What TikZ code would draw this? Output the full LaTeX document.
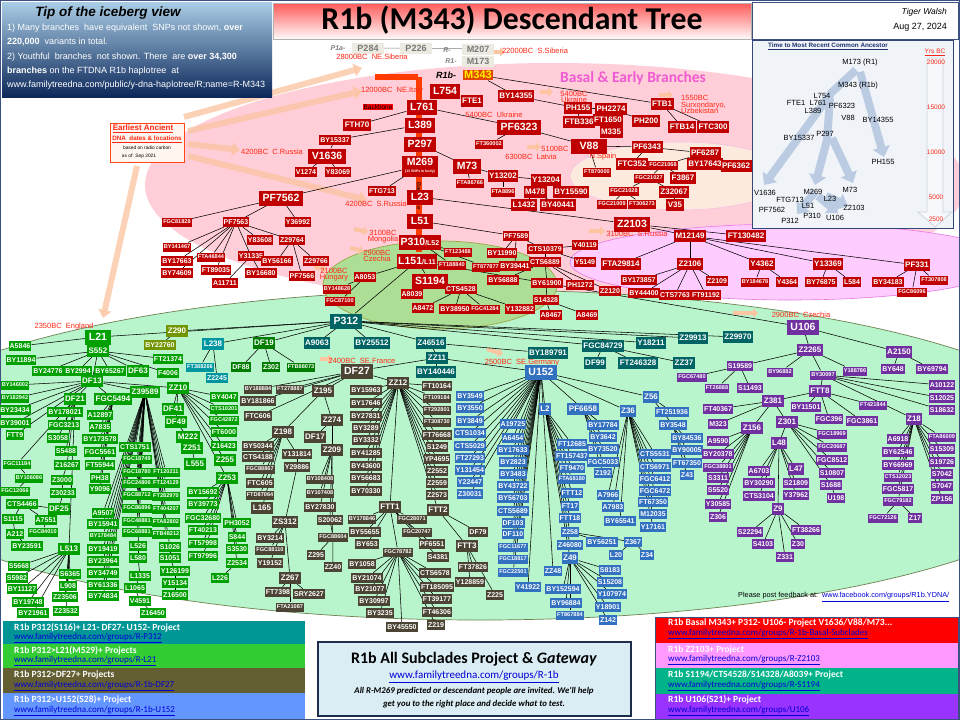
\documentclass[tikz,border=0pt]{standalone}
\usepackage{fontspec}
\usepackage{graphicx}
\setmainfont{Liberation Sans}
\newfontfamily\calfont{Carlito}
\usetikzlibrary{arrows.meta}
\pgfdeclarelayer{bg}
\pgfdeclarelayer{edg}
\pgfsetlayers{bg,edg,main}
\definecolor{cR}{RGB}{192,0,0}
\definecolor{cG}{RGB}{0,160,0}
\definecolor{cD}{RGB}{0,125,0}
\definecolor{cO}{RGB}{115,150,0}
\definecolor{cL}{RGB}{0,150,160}
\definecolor{cT}{RGB}{0,100,100}
\definecolor{cB}{RGB}{75,68,52}
\definecolor{cU}{RGB}{50,112,192}
\definecolor{cP}{RGB}{112,48,160}
\definecolor{cDate}{RGB}{255,40,20}
\definecolor{pinkbg}{RGB}{255,206,216}
\definecolor{greenbg}{RGB}{184,244,204}
\definecolor{magbg}{RGB}{255,204,255}
\definecolor{peach}{RGB}{252,234,222}
\definecolor{olivebg}{RGB}{172,222,150}
\definecolor{cArrow}{RGB}{252,196,160}
\definecolor{cInset}{RGB}{186,203,226}
\definecolor{cLink}{RGB}{0,0,215}
\definecolor{cGray}{RGB}{236,234,225}
\definecolor{frameC}{RGB}{60,80,130}
\definecolor{greenEdge}{RGB}{110,130,80}
\definecolor{magEdge}{RGB}{230,120,230}
\definecolor{peachEdge}{RGB}{245,190,230}
\definecolor{oliveEdge}{RGB}{160,165,70}
\definecolor{tipTop}{RGB}{170,205,230}
\definecolor{tipMid}{RGB}{45,95,150}
\definecolor{tipBot}{RGB}{12,40,90}
\definecolor{titTop}{RGB}{255,90,90}
\definecolor{titBot}{RGB}{255,250,250}
\definecolor{insetFill}{RGB}{240,243,248}
\definecolor{insetDraw}{RGB}{50,70,120}
\definecolor{scaleDraw}{RGB}{205,212,225}
\definecolor{scaleFill}{RGB}{246,248,251}
\definecolor{insetTitle}{RGB}{30,50,110}
\definecolor{eaDraw}{RGB}{255,70,20}
\definecolor{eaFill}{RGB}{255,246,240}
\definecolor{basalC}{RGB}{240,90,210}
\definecolor{backC}{RGB}{255,60,0}
\definecolor{m343C}{RGB}{225,70,0}
\definecolor{grayT}{RGB}{120,120,120}
\definecolor{lgA}{RGB}{0,150,150}
\definecolor{lgB}{RGB}{51,204,51}
\definecolor{lgC}{RGB}{100,95,50}
\definecolor{lgD}{RGB}{100,150,255}
\definecolor{lgE}{RGB}{255,0,0}
\definecolor{lgF}{RGB}{255,153,255}
\definecolor{lgG}{RGB}{0,179,136}
\definecolor{lgH}{RGB}{153,51,255}
\definecolor{gwFill}{RGB}{218,236,244}
\definecolor{gwDraw}{RGB}{30,45,75}
\newcommand\M[4]{\node[#1] (#4) at (#2,#3) {#4};}
\newcommand\N[5]{\node[#1] (#2) at (#3,#4) {#5};}
\newcommand\E[2]{\foreach \kid in {#2}{\draw[ln] (#1) -- (\kid);}}
\tikzset{
 nb/.style={inner sep=1pt, minimum height=10pt, text=white, font=\bfseries\fontsize{7}{7}\selectfont},
 szT/.style={font=\bfseries\fontsize{5.6}{6}\selectfont, minimum height=9pt},
 szM/.style={font=\bfseries\fontsize{8}{8}\selectfont, minimum height=11.5pt, inner xsep=1.5pt},
 szB/.style={font=\bfseries\fontsize{10.5}{11}\selectfont, minimum height=15pt, inner xsep=3.5pt},
 rN/.style={nb,fill=cR}, gN/.style={nb,fill=cG}, dN/.style={nb,fill=cD}, oN/.style={nb,fill=cO},
 lN/.style={nb,fill=cL}, tN/.style={nb,fill=cT}, bN/.style={nb,fill=cB}, uN/.style={nb,fill=cU},
 pN/.style={nb,fill=cP},
 ln/.style={draw=black, line width=0.55pt},
 dt/.style={text=cDate, font=\fontsize{7.5}{8}\selectfont, inner sep=0pt, align=center},
 oar/.style={line width=6pt, draw=cArrow, opacity=0.75, -{Triangle[length=8pt,width=13pt]}},
 sar/.style={line width=4pt, draw=cArrow, -{Triangle[length=5pt,width=9pt]}},
 iar/.style={line width=8pt, draw=cInset, line join=round, -{Triangle[length=10pt,width=17pt]}},
 il/.style={font=\fontsize{7.5}{8}\selectfont, inner sep=0.5pt},
 gbx/.style={fill=cGray, text=grayT, font=\bfseries\fontsize{9}{9}\selectfont, inner sep=1.5pt, minimum width=32pt, minimum height=11pt},
 glab/.style={text=gray, font=\bfseries\itshape\fontsize{7}{7}\selectfont, inner sep=0pt},
 lgt/.style={anchor=west, text=white, font=\calfont\bfseries\fontsize{9.5}{10}\selectfont, inner sep=0pt},
 lgl/.style={anchor=west, text=cLink, font=\calfont\fontsize{9}{9}\selectfont, inner sep=0pt},
 tipl/.style={anchor=west, text=white, font=\fontsize{9}{9}\selectfont, inner sep=0pt},
}
\begin{document}
\begin{tikzpicture}[x=1pt,y=-1pt]
\useasboundingbox (0,0) rectangle (960,720);
\begin{pgfonlayer}{bg}
\fill[white] (0,0) rectangle (960,720);
\fill[pinkbg] (555,185) ellipse [x radius=410, y radius=122];
\filldraw[fill=greenbg, draw=greenEdge, line width=0.7pt] (480,455) ellipse [x radius=620, y radius=165];
\filldraw[fill=magbg, draw=magEdge, line width=0.6pt] (790,262) ellipse [x radius=220, y radius=38];
\filldraw[fill=peach, draw=peachEdge, line width=0.5pt] (680,176) ellipse [x radius=110, y radius=34];
\filldraw[fill=olivebg, draw=oliveEdge, line width=0.7pt] (440,285) ellipse [x radius=117, y radius=44];
\draw[frameC, line width=1pt] (0.5,0.5) rectangle (959.5,719.5);
\end{pgfonlayer}
% ---------- header boxes
\shade[top color=tipTop, middle color=tipMid, bottom color=tipBot] (2,2) rectangle (272,97);
\node[font=\bfseries\itshape\fontsize{13.5}{14}\selectfont, inner sep=0pt] (tiptitle) at (108,13) {Tip of the iceberg view};
\node[tipl] (tip1) at (7,28) {1) Many branches\ \ have equivalent\ \ SNPs not shown, \textbf{over}};
\node[tipl] (tip2) at (7,42) {\textbf{220,000}\ \ variants in total.};
\node[tipl] (tip3) at (7,57) {2) Youthful\ \ branches\ \ not shown. There\ \ are \textbf{over 34,300}};
\node[tipl] (tip4) at (7,71) {\textbf{branches} on the FTDNA R1b haplotree\ \ at};
\node[tipl] (tip5) at (7,85) {www.familytreedna.com/public/y-dna-haplotree/R;name=R-M343};
\shade[top color=titTop, bottom color=titBot] (273,3) rectangle (751,39);
\draw[gray!60] (273,3) rectangle (751,39);
\node[inner sep=0pt] (title) at (512,20) {\resizebox{381pt}{!}{\calfont\bfseries R1b (M343) Descendant Tree}};
\draw[frameC, line width=0.6pt] (752,2) rectangle (958,39);
\node[anchor=east, font=\itshape\fontsize{8.5}{9}\selectfont, inner sep=0pt] (author) at (947,12) {Tiger Walsh};
\node[anchor=east, font=\fontsize{9}{9}\selectfont, inner sep=0pt] (date) at (947,27) {Aug 27, 2024};
% ---------- inset
\filldraw[fill=insetFill, draw=insetDraw, line width=0.8pt] (752,40) rectangle (953,228);
\draw[draw=scaleDraw, fill=scaleFill, line width=0.8pt] (927,58) -- (943,58) -- (943,212) -- (952,212) -- (935,227) -- (918,212) -- (927,212) -- cycle;
\draw[iar] (856,70) -- (832,92) -- (764,185);
\draw[iar] (860,72) -- (884,157);
\draw[iar] (830,98) -- (827,140) -- (815,185);
\draw[iar] (832,138) -- (853,183);
\draw[iar] (815,192) -- (797,214);
\draw[iar] (818,196) -- (838,213);
\draw[iar] (826,196) -- (848,206);
\node[font=\bfseries\fontsize{6.3}{7}\selectfont, text=insetTitle, inner sep=0pt] (itit) at (828,46) {\underline{Time to Most Recent Common Ancestor}};
\node[font=\fontsize{6.5}{7}\selectfont, text=cDate, inner sep=0pt] (iyrs) at (935,52) {\underline{Yrs BC}};
\foreach \v/\yy in {20000/62,15000/107,10000/152,5000/197,2500/219} {\node[font=\fontsize{6.5}{7}\selectfont, text=cDate, inner sep=0pt] (iy\v) at (936,\yy) {\v};}
\N{il}{iM173}{860}{63}{M173 (R1)}
\N{il}{iM343}{858}{86}{M343 (R1b)}
\N{il}{iL754}{822}{96}{L754}
\N{il}{iFTE1}{796}{103}{FTE1}
\N{il}{iL761}{818}{103}{L761}
\N{il}{iL389}{813}{111}{L389}
\N{il}{iPF6323}{842}{106}{PF6323}
\N{il}{iV88}{848}{118}{V88}
\N{il}{iBY14355}{878}{120}{BY14355}
\N{il}{iBY15337}{799}{138}{BY15337}
\N{il}{iP297}{825}{134}{P297}
\N{il}{iPH155}{883}{162}{PH155}
\N{il}{iV1636}{765}{193}{V1636}
\N{il}{iFTG713}{790}{200}{FTG713}
\N{il}{iM269}{813}{192}{M269}
\N{il}{iL23}{830}{199}{L23}
\N{il}{iM73}{850}{190}{M73}
\N{il}{iPF7562}{772}{210}{PF7562}
\N{il}{iL51}{808}{206}{L51}
\N{il}{iP310}{812}{216}{P310}
\N{il}{iU106}{835}{218}{U106}
\N{il}{iZ2103}{854}{208}{Z2103}
\N{il}{iP312}{790}{221}{P312}
% ---------- earliest ancient DNA box
\node[draw=eaDraw, fill=eaFill, minimum width=74pt, minimum height=39pt, inner sep=0pt] (eadna) at (147,143) {};
\node[text=cDate, font=\bfseries\fontsize{8}{8}\selectfont, inner sep=0pt] (ea1) at (143,129) {\underline{Earliest Ancient}};
\node[text=cDate, font=\bfseries\fontsize{6.3}{7}\selectfont, inner sep=0pt] (ea2) at (147,139) {\underline{DNA\ \ dates \& locations}};
\node[font=\fontsize{4.8}{5}\selectfont, inner sep=0pt] (ea3) at (147,148) {based on radio carbon};
\node[font=\fontsize{4.8}{5}\selectfont, inner sep=0pt] (ea4) at (139,156) {as of: Sep 2021};
% ---------- region label
\node[font=\calfont\bfseries\fontsize{15.5}{16}\selectfont, text=basalC, inner sep=0pt] (basal) at (633,78) {Basal \& Early Branches};
% ---------- faded arrows and backbone
\begin{pgfonlayer}{edg}
\draw[oar] (184,117) -- (362,68);
\draw[oar] (188,131) -- (362,91);
\draw[oar] (188,144) -- (240,150);
\draw[oar] (188,156) -- (367,200);
\draw[oar] (137,166) -- (103,318);
\draw[sar] (488,52) -- (505,52);
\draw[sar] (540,92) -- (553,92);
\draw[sar] (659,95) -- (673,95);
\draw[sar] (527,147) -- (541,147);
\draw[sar] (354,229) -- (368,232);
\draw[sar] (350,248) -- (364,251);
\draw[sar] (314,267) -- (327,270);
\draw[sar] (589,231) -- (605,231);
\draw[sar] (733,313) -- (758,313);
\draw[sar] (487,349) -- (503,354);
\draw[sar] (320,359) -- (333,359);
\fill[backC] (416,77) rectangle (422,252);
\fill[backC] (375,74) rectangle (418,80);
\end{pgfonlayer}
% ---------- top gray nodes
\node[glab] (p1a) at (338,48) {P1a-};
\node[gbx] (P284) at (368,48) {P284};
\node[gbx] (P226) at (416,48) {P226};
\node[glab] (rlab) at (447,50) {R-};
\node[gbx] (M207) at (478,49) {M207};
\node[glab] (r1lab) at (451,61) {R1-};
\node[gbx] (M173) at (478,61) {M173};
\node[font=\bfseries\itshape\fontsize{9}{9}\selectfont, inner sep=0pt] (r1blab) at (446,75) {R1b-};
\node[fill=m343C, text=yellow, font=\bfseries\fontsize{11}{11}\selectfont, inner sep=1.5pt] (M343) at (478,75) {M343};
\node[fill=red, font=\fontsize{6.5}{7}\selectfont, inner sep=1pt] (backbone) at (378,107) {Backbone};
\node[rotate=-90, font=\fontsize{6}{6}\selectfont, inner sep=0pt] (backbone2) at (419,196) {Backbone};
% ---------- dates
\N{dt}{d1}{372}{57}{28000BC\ \ NE.Siberia}
\N{dt}{d2}{535}{51}{22000BC\ \ S.Siberia}
\N{dt}{d3}{392}{91}{12000BC\ \ NE.Italy}
\N{dt}{d4}{574}{97}{5400BC\\[-2pt]Ukraine}
\N{dt}{d5}{494}{115}{5400BC\ \ Ukraine}
\node[dt, align=left, anchor=west, font=\fontsize{7.5}{7}\selectfont] (d6) at (681,104) {1550BC\\Surxondaryo,\\[-1pt]Uzbekistan};
\N{dt}{d7}{272}{152}{4200BC\ \ C.Russia}
\N{dt}{d8}{555}{149}{5100BC}
\N{dt}{d9}{531}{157}{6300BC\ \ Latvia}
\N{dt}{d10}{603}{157}{N.Spain}
\N{dt}{d11}{376}{204}{4200BC\ \ S.Russia}
\N{dt}{d12}{383}{237}{3100BC\\[-2pt]Mongolia}
\N{dt}{d13}{377}{256}{2900BC\\[-2pt]Czechia}
\N{dt}{d14}{334}{275}{2100BC\\[-2pt]Hungary}
\N{dt}{d15}{637}{234}{3100BC\ \ S.Russia}
\N{dt}{d16}{801}{315}{2900BC\ \ Czechia}
\N{dt}{d17}{64}{327}{2350BC\ \ England}
\N{dt}{d18}{362}{361}{2400BC\ \ SE.France}
\N{dt}{d19}{522}{363}{2500BC\ \ SE.Germany}
% ---------- red basal nodes
\M{rN,szB}{445}{91}{L754}
\M{rN,szB}{422}{107}{L761}
\M{rN,szB}{420}{125}{L389}
\M{rN,szB}{420}{144}{P297}
\node[rN,szB,align=center,minimum height=21pt,inner ysep=0pt] (M269) at (420,166) {M269\\[-4pt]{\fontsize{3.5}{4}\selectfont (13 SNPs in body)}};
\M{rN,szB}{420}{197}{L23}
\M{rN,szB}{420}{221}{L51}
\node[rN,szB,inner xsep=1.5pt] (P310) at (420,242) {P310{\fontsize{7}{7}\selectfont/L52}};
\node[rN,szB,inner xsep=1.5pt] (L151) at (417,261) {L151{\fontsize{7}{7}\selectfont/L11}};
\M{rN,szB}{632}{224}{Z2103}
\M{rN,szB}{327}{156}{V1636}
\M{rN,szB}{281}{198}{PF7562}
\M{rN,szB}{467}{166}{M73}
\M{rN,szB}{519}{127}{PF6323}
\node[rN,szB,minimum width=36pt] (V88) at (589,146) {V88};
\M{rN,szB}{430}{281}{S1194}
\M{rN,szM}{472}{101}{FTE1}
\M{rN,szM}{357}{125}{FTH70}
\M{rN,szM}{516}{96}{BY14355}
\M{rN,szM}{578}{108}{PH155}
\M{rN,szM}{611}{109}{PH2274}
\M{rN,szM}{662}{104}{FTB1}
\M{rN,szM}{579}{122}{FTB336}
\M{rN,szM}{608}{120}{FT1650}
\M{rN,szM}{646}{121}{PH200}
\M{rN,szM}{611}{132}{M335}
\M{rN,szM}{682}{127}{FTB14}
\M{rN,szM}{713}{127}{FTC300}
\M{rN,szM}{647}{147}{PF6343}
\M{rN,szM}{705}{153}{PF6287}
\M{rN,szM}{632}{164}{FTC352}
\M{rN,szM}{705}{164}{BY17643}
\M{rN,szM}{736}{166}{PF6362}
\M{rN,szM}{683}{178}{F3867}
\M{rN,szM}{674}{192}{Z32067}
\M{rN,szM}{675}{205}{V35}
\M{rN,szM}{503}{176}{Y13202}
\M{rN,szM}{546}{180}{Y13204}
\M{rN,szM}{535}{192}{M478}
\M{rN,szM}{571}{192}{BY15590}
\M{rN,szM}{524}{205}{L1432}
\M{rN,szM}{558}{205}{BY40441}
\M{rN}{335}{140}{BY15337}
\M{rN}{306}{172}{V1274}
\M{rN}{338}{172}{Y83069}
\M{rN}{382}{191}{FTG713}
\M{rN,szM}{690}{236}{M12149}
\M{rN,szM}{746}{236}{FT130482}
\M{rN,szM}{621}{264}{FTA29814}
\M{rN,szM}{690}{264}{Z2106}
\M{rN,szM}{762}{264}{Y4362}
\M{rN,szM}{828}{264}{Y13369}
\M{rN,szM}{917}{265}{PF331}
\M{rN}{236}{222}{PF7563}
\M{rN}{298}{222}{Y36992}
\M{rN}{177}{261}{BY17663}
\M{rN}{177}{273}{BY74609}
\M{rN}{216}{270}{FT89035}
\M{rN}{260}{240}{Y83608}
\M{rN}{292}{240}{Z29764}
\M{rN}{251}{256}{Y31335}
\M{rN}{261}{273}{BY16680}
\M{rN}{225}{283}{A11711}
\M{rN}{277}{261}{BY56166}
\M{rN}{316}{261}{Z29766}
\M{rN}{302}{276}{PF7566}
\M{rN}{365}{277}{A8053}
\M{rN}{412}{294}{A8039}
\M{rN}{461}{289}{CTS4528}
\M{rN}{423}{308}{A8472}
\M{rN}{455}{309}{BY38950}
\M{rN}{520}{309}{Y132882}
\M{rN}{516}{236}{PF7589}
\M{rN}{545}{249}{CTS10379}
\M{rN}{585}{245}{Y40119}
\M{rN}{502}{253}{BY11990}
\M{rN}{515}{266}{BY39441}
\M{rN}{545}{262}{CTS6889}
\M{rN}{585}{262}{Y5149}
\M{rN}{503}{280}{BY56888}
\M{rN}{547}{283}{BY61900}
\M{rN}{580}{285}{PH1272}
\M{rN}{546}{300}{S14328}
\M{rN}{551}{315}{A8467}
\M{rN}{587}{315}{A8469}
\M{rN}{610}{291}{Z2120}
\M{rN}{639}{280}{BY173857}
\M{rN}{717}{281}{Z2109}
\M{rN}{787}{282}{Y4364}
\M{rN}{821}{282}{BY76875}
\M{rN}{852}{282}{L584}
\M{rN}{888}{282}{BY34183}
\M{rN}{644}{293}{BY44400}
\M{rN}{675}{295}{CTS7763}
\M{rN}{706}{295}{FT91192}
\M{rN,szT}{663}{165}{FGC21068}
\M{rN,szT}{597}{172}{FT870000}
\M{rN,szT}{649}{178}{FGC21027}
\M{rN,szT}{624}{191}{FGC21028}
\M{rN,szT}{612}{204}{FGC21009}
\M{rN,szT}{642}{204}{FT306273}
\M{rN,szT}{470}{183}{FTA86766}
\M{rN,szT}{503}{192}{FTA8896}
\M{rN,szT}{489}{144}{FT360002}
\M{rN,szT}{177}{222}{FGC81828}
\M{rN,szT}{177}{247}{BY141467}
\M{rN,szT}{211}{257}{FTA46844}
\M{rN,szT}{337}{289}{BY148628}
\M{rN,szT}{340}{301}{FGC87100}
\M{rN,szT}{458}{252}{FT123488}
\M{rN,szT}{452}{265}{FT188840}
\M{rN,szT}{486}{267}{FT877877}
\M{rN,szT}{485}{309}{FGC41284}
\M{rN,szT}{755}{282}{BY184678}
\M{rN,szT}{934}{280}{FT307808}
\M{rN,szT}{912}{292}{FGC86096}
% ---------- P312 teal
\M{tN,szB}{346}{321}{P312}
\M{tN,szM}{317}{343}{A9063}
\M{tN,szM}{372}{343}{BY25512}
\M{tN,szM}{431}{343}{Z46516}
\M{tN,szM}{437}{358}{ZZ11}
\M{tN,szM}{436}{372}{BY140446}
\M{tN,szM}{548}{353}{BY189791}
\M{tN,szM}{603}{346}{FGC84729}
\M{tN,szM}{595}{363}{DF99}
\M{tN,szM}{638}{363}{FT246328}
\M{tN,szM}{684}{363}{ZZ37}
\M{tN,szM}{651}{343}{Y18211}
\M{tN,szM}{693}{338}{Z29913}
\M{tN,szM}{738}{337}{Z29970}
% ---------- L21 green and others
\M{gN,szB}{98}{337}{L21}
\M{oN,szM}{177}{331}{Z290}
\M{oN}{160}{345}{BY22760}
\M{lN,szM}{213}{344}{L238}
\M{lN,szT}{200}{367}{FT388266}
\M{lN}{217}{378}{Z2245}
\M{dN,szM}{264}{343}{DF19}
\M{dN}{241}{367}{DF88}
\M{dN}{271}{367}{Z302}
\M{dN,szT}{301}{367}{FTB88073}
\M{gN,szM}{98}{351}{S552}
\M{gN,szM}{92}{381}{DF13}
\M{gN,szM}{145}{392}{Z39589}
\M{gN,szM}{178}{388}{ZZ10}
\M{gN,szM}{75}{399}{DF21}
\M{gN,szM}{113}{399}{FGC5494}
\M{gN,szM}{173}{409}{DF41}
\M{gN,szM}{176}{422}{DF49}
\M{gN,szM}{188}{437}{M222}
\M{gN,szM}{192}{448}{Z251}
\M{gN,szM}{225}{460}{Z255}
\M{gN,szM}{195}{464}{L555}
\M{gN,szM}{227}{478}{Z253}
\M{gN,szM}{59}{509}{DF25}
\M{gN,szM}{69}{549}{L513}
\M{gN,szM}{138}{371}{DF63}
\M{gN}{20}{346}{A5846}
\M{gN}{21}{360}{BY11894}
\M{gN}{168}{359}{FT21374}
\M{gN}{48}{371}{BY24776}
\M{gN}{78}{371}{BY2994}
\M{gN}{110}{371}{BY65267}
\M{gN}{168}{373}{F4006}
\M{gN}{15}{410}{BY23434}
\M{gN}{15}{423}{BY39001}
\M{gN}{15}{435}{FTT9}
\M{gN}{65}{412}{BY178021}
\M{gN}{100}{415}{A12897}
\M{gN}{64}{425}{FGC3213}
\M{gN}{100}{427}{A7835}
\M{gN}{58}{438}{S3058}
\M{gN}{100}{439}{BY173578}
\M{gN}{66}{451}{S5488}
\M{gN}{100}{452}{FGC5561}
\M{gN}{135}{447}{CTS1751}
\M{gN}{224}{397}{BY4047}
\M{gN}{224}{432}{FT6000}
\M{gN}{224}{446}{Z16423}
\M{gN}{67}{465}{Z16267}
\M{gN}{62}{480}{Z3000}
\M{gN}{63}{493}{Z30233}
\M{gN}{22}{504}{CTS4466}
\M{gN}{13}{519}{S1115}
\M{gN}{46}{520}{A7551}
\M{gN}{15}{534}{A212}
\M{gN}{27}{546}{BY23591}
\M{gN}{19}{566}{S5668}
\M{gN}{17}{578}{S5982}
\M{gN}{22}{589}{BY11127}
\M{gN}{28}{602}{BY19748}
\M{gN}{33}{613}{BY21961}
\M{gN}{70}{574}{S6365}
\M{gN}{68}{586}{L908}
\M{gN}{65}{597}{Z23506}
\M{gN}{66}{611}{Z23532}
\M{gN}{100}{465}{FT55944}
\M{gN}{100}{478}{PH38}
\M{gN}{100}{489}{Y9096}
\M{gN}{103}{513}{A9507}
\M{gN}{103}{524}{BY15941}
\M{gN}{103}{549}{BY19419}
\M{gN}{103}{561}{BY23964}
\M{gN}{103}{573}{BY34749}
\M{gN}{103}{585}{BY61336}
\M{gN}{103}{596}{BY74834}
\M{gN}{138}{546}{L526}
\M{gN}{138}{558}{L580}
\M{gN}{140}{576}{L1335}
\M{gN}{135}{588}{L1065}
\M{gN}{140}{601}{V4591}
\M{gN}{153}{613}{Z16450}
\M{gN}{170}{547}{S1026}
\M{gN}{170}{558}{S1051}
\M{gN}{175}{571}{Y126199}
\M{gN}{175}{583}{Y15134}
\M{gN}{175}{595}{Z16500}
\M{gN}{203}{492}{BY15692}
\M{gN}{203}{504}{BY39773}
\M{gN}{203}{518}{FGC32680}
\M{gN}{203}{530}{FT40213}
\M{gN}{203}{543}{FT57998}
\M{gN}{203}{556}{FT97996}
\M{gN}{237}{523}{PH3052}
\M{gN}{237}{537}{S844}
\M{gN}{237}{549}{S3530}
\M{gN}{237}{563}{Z2534}
\M{gN}{220}{578}{L226}
\M{gN,szT}{15}{385}{BY146002}
\M{gN,szT}{15}{398}{BY182942}
\M{gN,szT}{224}{409}{CTS10201}
\M{gN,szT}{224}{420}{FGC42872}
\M{gN,szT}{17}{464}{FGC11184}
\M{gN,szT}{29}{478}{BY106086}
\M{gN,szT}{15}{491}{FGC12066}
\M{gN,szT}{43}{532}{FGC84010}
\M{gN,szT}{103}{536}{BY178484}
\M{gN,szT}{137}{459}{FGC18749}
\M{gN,szT}{137}{472}{FGC18780}
\M{gN,szT}{137}{483}{FGC24806}
\M{gN,szT}{137}{495}{FGC88712}
\M{gN,szT}{137}{508}{FGC86896}
\M{gN,szT}{137}{521}{FGC48881}
\M{gN,szT}{137}{532}{FGC68881}
\M{gN,szT}{166}{472}{FT120211}
\M{gN,szT}{166}{483}{FT124129}
\M{gN,szT}{166}{496}{FT282970}
\M{gN,szT}{166}{509}{FT404207}
\M{gN,szT}{166}{522}{FTA82802}
\M{gN,szT}{166}{534}{FTB48212}
% ---------- DF27 brown
\M{bN,szB}{357}{371}{DF27}
\M{bN,szM}{398}{383}{ZZ12}
\M{bN,szM}{323}{391}{Z195}
\M{bN,szM}{332}{420}{Z274}
\M{bN,szM}{315}{437}{DF17}
\M{bN,szM}{332}{450}{Z209}
\M{bN,szM}{283}{432}{Z198}
\M{bN,szM}{285}{522}{ZS312}
\M{bN,szM}{290}{578}{Z267}
\M{bN,szM}{390}{507}{FTT1}
\M{bN,szM}{438}{510}{FTT2}
\M{bN,szM}{467}{546}{FTT3}
\M{bN,szM}{262}{508}{L165}
\M{bN}{258}{401}{BY181866}
\M{bN}{258}{416}{FTC606}
\M{bN}{258}{446}{BY50344}
\M{bN}{258}{457}{CTS4188}
\M{bN}{260}{483}{FTC605}
\M{bN}{297}{454}{Y131814}
\M{bN}{297}{467}{Y29886}
\M{bN}{366}{390}{BY15963}
\M{bN}{366}{403}{BY17646}
\M{bN}{366}{416}{BY27831}
\M{bN}{366}{428}{BY3289}
\M{bN}{366}{440}{BY3332}
\M{bN}{366}{453}{BY41285}
\M{bN}{366}{466}{BY43600}
\M{bN}{366}{478}{BY56683}
\M{bN}{366}{491}{BY70330}
\M{bN}{437}{386}{FT10164}
\M{bN}{437}{435}{FT76668}
\M{bN}{437}{447}{S1249}
\M{bN}{437}{459}{YP4695}
\M{bN}{437}{471}{Z2552}
\M{bN}{437}{483}{Z2559}
\M{bN}{437}{495}{Z2573}
\M{bN}{320}{507}{BY27830}
\M{bN}{330}{520}{S20062}
\M{bN}{316}{555}{Z295}
\M{bN}{333}{567}{ZZ40}
\M{bN}{270}{538}{BY3214}
\M{bN}{270}{563}{Y19152}
\M{bN}{278}{592}{FT7398}
\M{bN}{309}{594}{SRY2627}
\M{bN}{365}{532}{BY55655}
\M{bN}{367}{544}{BY653}
\M{bN}{432}{544}{PF6551}
\M{bN}{438}{557}{S4381}
\M{bN}{362}{564}{BY1058}
\M{bN}{367}{578}{BY21074}
\M{bN}{370}{589}{BY21077}
\M{bN}{374}{601}{BY30997}
\M{bN}{380}{613}{BY3235}
\M{bN}{435}{573}{CTS6578}
\M{bN}{437}{587}{FT185095}
\M{bN}{437}{599}{FT39177}
\M{bN}{437}{612}{FT46306}
\M{bN}{478}{532}{DF79}
\M{bN}{473}{567}{FT37826}
\M{bN}{470}{582}{Y128859}
\M{bN}{495}{595}{Z225}
\M{bN}{402}{627}{BY45550}
\M{bN}{436}{625}{Z219}
\M{bN,szT}{258}{389}{BY188884}
\M{bN,szT}{290}{389}{FT278887}
\M{bN,szT}{260}{469}{FGC88867}
\M{bN,szT}{260}{495}{FTD87064}
\M{bN,szT}{320}{479}{BY108408}
\M{bN,szT}{320}{493}{BY107408}
\M{bN,szT}{333}{537}{FGC88604}
\M{bN,szT}{270}{550}{FGC88110}
\M{bN,szT}{290}{607}{FTA21087}
\M{bN,szT}{362}{519}{BY178846}
\M{bN,szT}{412}{519}{FGC28071}
\M{bN,szT}{417}{532}{FGC20747}
\M{bN,szT}{398}{552}{FGC78782}
\M{bN,szT}{437}{398}{FT109184}
\M{bN,szT}{437}{410}{FT292801}
\M{bN,szT}{437}{422}{FT308730}
% ---------- U152 blue
\M{uN,szB}{541}{372}{U152}
\M{uN,szM}{545}{409}{L2}
\M{uN,szM}{583}{409}{PF6658}
\M{uN,szM}{628}{411}{Z36}
\M{uN,szM}{651}{397}{Z56}
\M{uN,szM}{570}{558}{Z49}
\M{uN}{470}{396}{BY3549}
\M{uN}{470}{408}{BY3550}
\M{uN}{470}{421}{BY3849}
\M{uN}{470}{433}{CTS1034}
\M{uN}{470}{446}{CTS5029}
\M{uN}{470}{458}{FT27293}
\M{uN}{470}{470}{Y131454}
\M{uN}{470}{482}{Y22447}
\M{uN}{470}{494}{Z30031}
\M{uN}{513}{424}{A19725}
\M{uN}{513}{438}{A6454}
\M{uN}{513}{450}{BY17633}
\M{uN}{513}{462}{BY2823}
\M{uN}{513}{474}{BY3483}
\M{uN}{513}{486}{BY43722}
\M{uN}{513}{498}{BY56703}
\M{uN}{513}{511}{CTS5689}
\M{uN}{513}{523}{DF103}
\M{uN}{513}{534}{DF110}
\M{uN}{528}{587}{Y41922}
\M{uN}{553}{571}{ZZ48}
\M{uN}{572}{444}{FT12685}
\M{uN}{572}{456}{FT157437}
\M{uN}{572}{468}{FT9470}
\M{uN}{572}{493}{FTT12}
\M{uN}{570}{506}{FT17}
\M{uN}{570}{518}{FTT18}
\M{uN}{570}{532}{Z258}
\M{uN}{570}{545}{Z46080}
\M{uN}{602}{542}{BY56251}
\M{uN}{633}{542}{Z367}
\M{uN}{616}{555}{L20}
\M{uN}{647}{555}{Z34}
\M{uN}{610}{570}{S8183}
\M{uN}{610}{582}{S15208}
\M{uN}{612}{594}{Y107974}
\M{uN}{608}{607}{Y18901}
\M{uN}{608}{620}{Z142}
\M{uN}{563}{589}{BY152594}
\M{uN}{566}{603}{BY96884}
\M{uN}{603}{425}{BY17784}
\M{uN}{603}{437}{BY3642}
\M{uN}{603}{449}{BY73520}
\M{uN}{603}{462}{FGC5033}
\M{uN}{603}{473}{Z192}
\M{uN}{655}{454}{CTS5531}
\M{uN}{655}{467}{CTS6971}
\M{uN}{655}{479}{FGC6412}
\M{uN}{655}{491}{FGC6472}
\M{uN}{653}{502}{FT67350}
\M{uN}{653}{514}{M12035}
\M{uN}{653}{527}{Y17161}
\M{uN}{608}{495}{A7966}
\M{uN}{613}{507}{A7983}
\M{uN}{620}{521}{BY65541}
\M{uN}{672}{412}{FT251936}
\M{uN}{673}{425}{BY3548}
\M{uN}{687}{438}{BY84536}
\M{uN}{687}{450}{BY90005}
\N{uN}{FT67350b}{687}{463}{FT67350}
\M{uN}{687}{475}{Z43}
\M{uN,szT}{513}{547}{FGC11677}
\M{uN,szT}{513}{559}{FGC18817}
\M{uN,szT}{513}{572}{FGC22501}
\M{uN,szT}{572}{479}{FTA68180}
\M{uN,szT}{570}{615}{FT867884}
% ---------- U106 purple
\M{pN,szB}{803}{327}{U106}
\M{pN,szM}{810}{350}{Z2265}
\M{pN,szM}{899}{352}{A2150}
\M{pN,szM}{820}{391}{FTT8}
\M{pN,szM}{773}{401}{Z381}
\M{pN,szM}{752}{428}{Z156}
\M{pN,szM}{787}{422}{Z301}
\M{pN,szM}{779}{443}{L48}
\M{pN,szM}{914}{419}{Z18}
\M{pN,szM}{778}{509}{Z9}
\M{pN,szM}{796}{469}{L47}
\M{pN}{740}{366}{S19589}
\M{pN}{893}{369}{BY648}
\M{pN}{932}{369}{BY69794}
\M{pN}{750}{388}{S11493}
\M{pN}{942}{385}{A10122}
\M{pN}{942}{398}{S12025}
\M{pN}{942}{410}{S18632}
\M{pN}{806}{407}{BY11501}
\M{pN}{829}{419}{FGC396}
\M{pN}{862}{421}{FGC3861}
\M{pN}{718}{409}{FT40367}
\M{pN}{718}{424}{M323}
\M{pN}{718}{441}{A9590}
\M{pN}{718}{454}{BY20378}
\M{pN}{718}{478}{S3311}
\M{pN}{718}{490}{S5520}
\M{pN}{718}{504}{Y30585}
\M{pN}{718}{517}{Z306}
\M{pN}{759}{471}{A6703}
\M{pN}{759}{483}{BY30290}
\M{pN}{759}{496}{CTS3104}
\M{pN}{796}{483}{S21809}
\M{pN}{796}{495}{Y37962}
\M{pN}{832}{460}{FGC8512}
\M{pN}{832}{473}{S10807}
\M{pN}{831}{485}{S1688}
\M{pN}{836}{498}{U198}
\M{pN}{898}{439}{A6918}
\M{pN}{898}{452}{BY62546}
\M{pN}{898}{465}{BY66969}
\M{pN}{898}{489}{FGC5817}
\M{pN}{942}{449}{S15309}
\M{pN}{942}{462}{S19726}
\M{pN}{942}{474}{S7042}
\M{pN}{942}{486}{S7047}
\M{pN}{942}{499}{ZP156}
\M{pN}{750}{532}{S22294}
\M{pN}{806}{530}{FT38266}
\M{pN}{763}{544}{S4103}
\M{pN}{798}{544}{Z30}
\M{pN}{785}{557}{Z331}
\M{pN}{915}{518}{Z17}
\M{pN,szT}{780}{372}{BY96882}
\M{pN,szT}{823}{375}{BY30097}
\M{pN,szT}{855}{371}{Y188786}
\M{pN,szT}{692}{377}{FGC67480}
\M{pN,szT}{717}{388}{FT26888}
\M{pN,szT}{873}{405}{FT421844}
\M{pN,szT}{718}{467}{FGC38801}
\M{pN,szT}{832}{434}{FGC18969}
\M{pN,szT}{832}{447}{FGC20687}
\M{pN,szT}{898}{477}{CTS12023}
\M{pN,szT}{898}{501}{FGC79182}
\M{pN,szT}{942}{437}{FTA86009}
\M{pN,szT}{883}{518}{FGC72126}
% ---------- feedback
\node[anchor=west, font=\fontsize{7.3}{8}\selectfont, inner sep=0pt] (feedback) at (738,597) {Please post feedback at:\ \ \textcolor{cLink}{\underline{www.facebook.com/groups/R1b.YDNA/}}};
% ---------- legends
\fill[lgA] (3,621) rectangle (305,644);
\fill[lgB] (3,644) rectangle (305,668);
\fill[lgC] (3,668) rectangle (305,693);
\fill[lgD] (3,693) rectangle (305,719);
\node[lgt] (lg1) at (14,628) {R1b P312(S116)+ L21- DF27- U152- Project};
\node[lgl] (lk1) at (14,638) {\underline{www.familytreedna.com/groups/R-P312}};
\node[lgt] (lg2) at (14,651) {R1b P312>L21(M529)+ Projects};
\node[lgl] (lk2) at (14,661) {\underline{www.familytreedna.com/groups/R-L21}};
\node[lgt] (lg3) at (14,675) {R1b P312>DF27+ Projects};
\node[lgl] (lk3) at (14,686) {\underline{www.familytreedna.com/groups/R-1b-DF27}};
\node[lgt] (lg4) at (14,700) {R1b P312>U152(S28)+ Project};
\node[lgl] (lk4) at (14,711) {\underline{www.familytreedna.com/groups/R-1b-U152}};
\fill[lgE] (655,617) rectangle (958,643);
\fill[lgF] (655,643) rectangle (958,668);
\fill[lgG] (655,668) rectangle (958,694);
\fill[lgH] (655,694) rectangle (958,719);
\draw[frameC, line width=0.6pt] (655,617) rectangle (958,719);
\node[lgt] (lg5) at (668,623) {R1b Basal M343+ P312- U106- Project V1636/V88/M73...};
\node[lgl] (lk5) at (668,634) {\underline{www.familytreedna.com/groups/R-1b-Basal-Subclades}};
\node[lgt] (lg6) at (668,650) {R1b Z2103+ Project};
\node[lgl] (lk6) at (668,660) {\underline{www.familytreedna.com/groups/R-Z2103}};
\node[lgt] (lg7) at (668,675) {R1b S1194/CTS4528/S14328/A8039+ Project};
\node[lgl] (lk7) at (668,686) {\underline{www.familytreedna.com/groups/R-S1194}};
\node[lgt] (lg8) at (668,700) {R1b U106(S21)+ Project};
\node[lgl] (lk8) at (668,711) {\underline{www.familytreedna.com/groups/U106}};
\filldraw[fill=gwFill, draw=gwDraw, line width=2.5pt] (318,642) rectangle (631,716);
\node[font=\calfont\bfseries\fontsize{16}{16}\selectfont, inner sep=0pt] (gw1) at (474,659) {R1b All Subclades Project \& \textit{Gateway}};
\node[font=\calfont\fontsize{11}{11}\selectfont, text=cLink, inner sep=0pt] (gw2) at (474,677) {\underline{www.familytreedna.com/groups/R-1b}};
\node[font=\calfont\bfseries\itshape\fontsize{8.8}{9}\selectfont, inner sep=0pt] (gw3) at (474,691) {All R-M269 predicted or descendant people are invited. We'll help};
\node[font=\calfont\bfseries\itshape\fontsize{8.8}{9}\selectfont, inner sep=0pt] (gw4) at (474,704) {get you to the right place and decide what to test.};
% ---------- connectors
\begin{pgfonlayer}{edg}
\draw[gray, line width=0.5pt] (P284) -- (P226) -- (M207);
\E{M343}{BY14355,FTB1}
\E{L754}{FTE1}
\E{BY14355}{PH155}
\E{PH155}{FTB336,PH2274}
\E{PH2274}{FT1650,PH200}
\E{FT1650}{M335}
\E{FTB1}{FTB14,FTC300}
\E{L761}{FTH70,PF6323}
\E{L389}{BY15337}
\E{BY15337}{V1636}
\E{V1636}{V1274,Y83069}
\E{P297}{M73}
\E{M73}{FTA86766,Y13202}
\E{Y13202}{FTA8896,Y13204}
\E{Y13204}{M478,BY15590}
\E{M478}{L1432,BY40441}
\E{PF6323}{FT360002,V88}
\E{V88}{PF6343,FT870000}
\E{PF6343}{FTC352,PF6287}
\E{PF6287}{FGC21068,BY17643,PF6362}
\E{FGC21068}{FGC21027,F3867}
\E{FGC21027}{FGC21028,Z32067}
\E{FGC21028}{FGC21009,FT306273}
\E{Z32067}{V35}
\E{M269}{FTG713,PF7562}
\E{PF7562}{FGC81828,PF7563,Y36992}
\E{PF7563}{BY141467,BY17663,BY74609,FTA46844,FT89035,Y31335,Y83608,Z29764}
\E{Y31335}{A11711,BY16680}
\E{Z29764}{BY56166,Z29766,PF7566}
\E{L23}{Z2103}
\E{Z2103}{M12149,FT130482}
\E{M12149}{FTA29814,Z2106,Y4362,Y13369,PF331}
\E{Z2106}{BY173857,BY44400,CTS7763,FT91192,Z2109}
\E{Y4362}{BY184678,Y4364}
\E{Y13369}{BY76875,L584}
\E{PF331}{BY34183,FT307808,FGC86096}
\E{L51}{PF7589}
\E{PF7589}{BY11990,BY39441,CTS10379}
\E{CTS10379}{Y40119,Y5149,CTS6889}
\E{CTS6889}{BY56888,BY61900,PH1272,Z2120}
\E{BY61900}{S14328}
\E{S14328}{A8467,A8469}
\E{P310}{FT123488,FT188840,FT877877}
\E{L151}{A8053,S1194,P312,U106}
\E{A8053}{BY148628,FGC87100}
\E{S1194}{A8039,CTS4528}
\E{CTS4528}{A8472,BY38950,FGC41284,Y132882}
\E{P312}{L21,Z290,L238,DF19,A9063,BY25512,Z46516,FGC84729,Y18211,Z29913,Z29970}
\E{Z290}{BY22760}
\E{L238}{FT388266,Z2245}
\E{DF19}{DF88,Z302,FTB88073}
\E{L21}{A5846}
\E{S552}{BY11894,BY24776,BY2994,BY65267,DF63,F4006,FT21374,DF13}
\E{DF13}{BY146002,BY182942,BY23434,BY39001,FTT9,DF21,FGC5494,Z39589,ZZ10}
\E{DF21}{BY178021,FGC3213,S3058,S5488,FGC11184,Z16267,L513}
\E{Z16267}{Z3000}
\E{Z3000}{Z30233}
\E{Z30233}{DF25}
\E{DF25}{CTS4466}
\E{CTS4466}{S1115,A7551}
\E{A7551}{FGC84010}
\E{S1115}{A212}
\E{A212}{BY23591}
\E{FGC11184}{BY106086}
\E{BY106086}{FGC12066}
\E{L513}{S5668,S5982,BY11127,BY19748,BY21961,S6365,L908,Z23506,Z23532}
\E{FGC5494}{A12897,A7835,BY173578,FGC5561,FT55944,PH38,Y9096}
\E{Z39589}{CTS1751,FGC18749,FGC18780,FGC24806,FGC88712,FGC86896,FGC48881,FGC68881,L526,FT120211,FT124129,FT282970,FT404207,FTA82802,FTB48212,S1026,A9507,BY15941,BY178484,BY19419,BY23964,BY34749,BY61336,BY74834}
\E{L526}{L580}
\E{L580}{L1335}
\E{L1335}{L1065}
\E{L1065}{V4591}
\E{V4591}{Z16450}
\E{S1026}{S1051}
\E{S1051}{Y126199}
\E{Y126199}{Y15134}
\E{Y15134}{Z16500}
\E{ZZ10}{BY4047,CTS10201,FGC42872,FT6000,Z16423,DF41,DF49,Z255,Z253}
\E{DF49}{M222}
\E{M222}{Z251}
\E{Z251}{L555}
\E{Z253}{BY15692,BY39773,FGC32680,FT40213,FT57998,FT97996,PH3052,S844,S3530,Z2534}
\E{Z2534}{L226}
\E{Z46516}{ZZ11,BY189791}
\E{ZZ11}{BY140446,DF27,U152}
\E{FGC84729}{DF99,FT246328,ZZ37}
\E{DF27}{BY188884,FT278887,BY181866,FTC606,Z195,ZZ12}
\E{Z195}{Z198,Z274}
\E{Z274}{DF17,Z209}
\E{Z198}{BY50344,CTS4188,FGC88867,FTC605,FTD87064,L165,Y131814}
\E{Y131814}{Y29886}
\E{Y29886}{ZS312}
\E{ZS312}{BY3214,FGC88110,Y19152,Z267}
\E{Z267}{FT7398,SRY2627,FTA21087}
\E{Z209}{BY108408,BY107408,BY27830,S20062,ZZ40}
\E{S20062}{FGC88604}
\E{FGC88604}{Z295}
\E{ZZ12}{BY15963,BY17646,BY27831,BY3289,BY3332,BY41285,BY43600,BY56683,BY70330,FT10164,FT109184,FT292801,FT308730,FT76668,S1249,YP4695,Z2552,Z2559,Z2573,FTT1,FTT2}
\E{FTT1}{BY178846,FGC28071,BY55655,FGC20747,BY653,PF6551,S4381,FGC78782}
\E{FGC78782}{BY1058,BY21074,BY21077,BY30997,BY3235,BY45550,Z219,CTS6578,FT185095,FT39177,FT46306}
\E{FTT2}{DF79,FTT3}
\E{FTT3}{FT37826,Y128859,Z225}
\E{U152}{BY3549,BY3550,BY3849,CTS1034,CTS5029,FT27293,Y131454,Y22447,Z30031,A19725,A6454,BY17633,BY2823,BY3483,BY43722,BY56703,CTS5689,DF103,DF110,FGC11677,FGC18817,FGC22501,Y41922,ZZ48,L2,PF6658,Z36,Z56}
\E{L2}{FT12685,FT157437,FT9470,FTA68180,FTT12,FT17,FTT18,Z258,Z46080,Z49}
\E{Z258}{BY56251,Z367}
\E{Z367}{L20,Z34}
\E{Z49}{S8183,S15208,Y107974,Y18901,Z142,BY152594,BY96884,FT867884}
\E{PF6658}{BY17784,BY3642,BY73520,FGC5033,Z192}
\E{Z36}{CTS5531,CTS6971,FGC6412,FGC6472,FT67350,M12035,Y17161,A7966,A7983,BY65541}
\E{Z56}{FT251936,BY3548}
\E{BY3548}{BY84536,BY90005,FT67350b,Z43}
\E{U106}{Z2265,A2150}
\E{Z2265}{S19589,BY96882,BY30097,Y188786}
\E{A2150}{BY648,BY69794}
\E{S19589}{FGC67480,FT26888,S11493}
\E{BY30097}{FTT8,A10122,S12025,S18632,Z18}
\E{FTT8}{Z381,BY11501,FGC396,FGC3861,FT421844}
\E{Z381}{FT40367,M323,Z156,Z301}
\E{Z156}{A9590,BY20378,FGC38801,S3311,S5520,Y30585,Z306}
\E{Z301}{L48,FGC18969,FGC20687,FGC8512,S10807,S1688}
\E{S1688}{U198}
\E{L48}{A6703,BY30290,CTS3104,L47,S21809,Y37962,Z9}
\E{Z9}{S22294,FT38266,S4103,Z30,Z331}
\E{Z18}{A6918,BY62546,BY66969,CTS12023,FGC5817,FGC79182,FTA86009,S15309,S19726,S7042,S7047,ZP156}
\E{FGC79182}{FGC72126,Z17}
\end{pgfonlayer}
\end{tikzpicture}
\end{document}
